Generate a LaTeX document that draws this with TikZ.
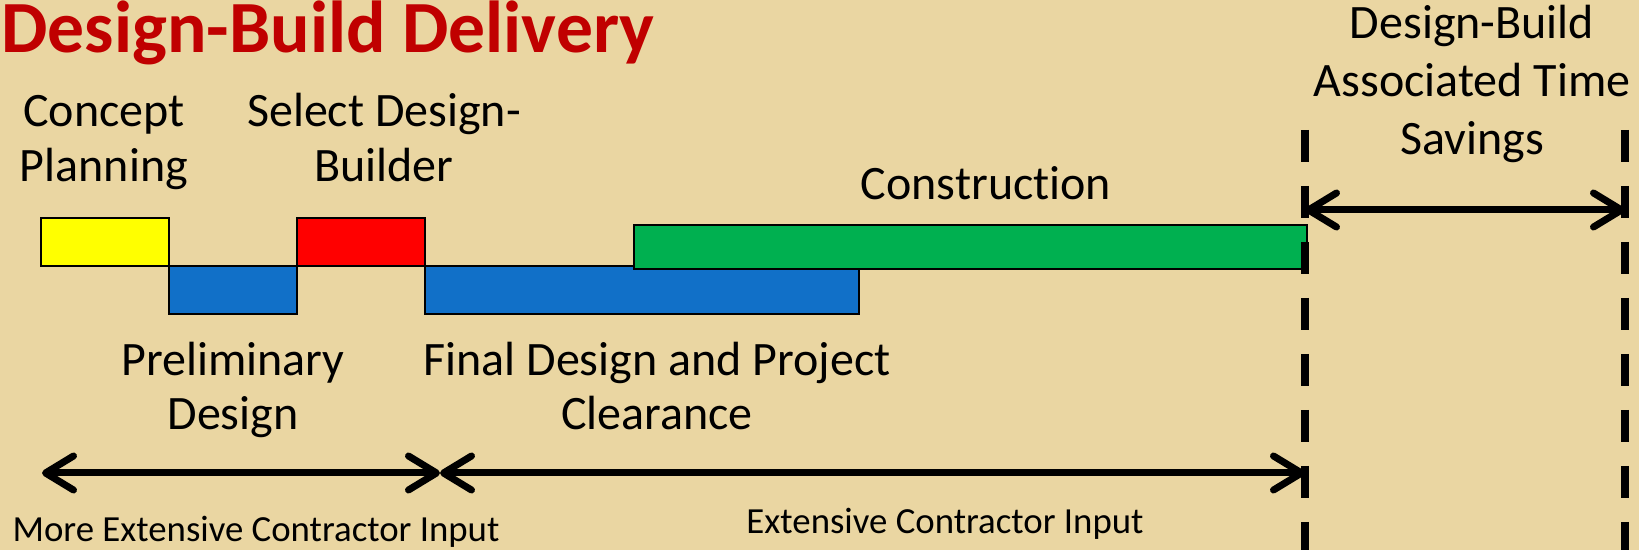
\documentclass[tikz,border=0pt]{standalone}
\usepackage{fontspec}
\setmainfont{Carlito}[Ligatures=NoCommon]
\usetikzlibrary{positioning, arrows.meta}

\definecolor{papyrus}{HTML}{EAD6A2}
\definecolor{titlered}{HTML}{C00000}
\definecolor{conceptfill}{HTML}{FFFF00}
\definecolor{designfill}{HTML}{1170C8}
\definecolor{selectfill}{HTML}{FF0000}
\definecolor{buildfill}{HTML}{00B050}

\begin{document}
\begin{tikzpicture}[x=0.5pt, y=-0.5pt,
    bar/.style = {draw, line width=0.8pt, inner sep=0pt, outer sep=0pt,
                  minimum height=24pt, anchor=north west},
    phasetext/.style = {font=\fontsize{24}{27.5}\selectfont, align=center,
                        anchor=base, inner sep=0pt},
    inputtext/.style = {font=\fontsize{18.4}{22}\selectfont, anchor=base, inner sep=0pt},
    barb/.tip = {Straight Barb[length=14pt, width=17pt, round]},
    span/.style = {line width=3.5pt, barb-barb},
    savebound/.style = {line width=3.8pt, dash pattern=on 16pt off 12pt}]

    % Background
    \fill[papyrus] (0,0) rectangle (1639,550);
    \useasboundingbox (0,0) rectangle (1639,550);

    % Title
    \node[anchor=base west, inner sep=0pt, text=titlered,
          font=\fontsize{36.8}{40}\selectfont\bfseries] (title) at (1,53) {Design-Build Delivery};

    % Phases
    \node[bar, fill=conceptfill, minimum width=64pt] (concept) at (40.7,218) {};
    \node[bar, fill=designfill, minimum width=64pt] (prelim) at (concept.south east) {};
    \node[bar, fill=selectfill, minimum width=64pt, anchor=south west] (select) at (prelim.north east) {};
    \node[bar, fill=designfill, minimum width=217pt] (final) at (select.south east) {};
    \node[bar, fill=buildfill, minimum width=336.5pt, minimum height=22pt] (build) at (634,225) {};

    % Phase labels (anchored at the last line)
    \node[phasetext] (conceptlbl) at (104,182) {Concept\\Planning};
    \node[phasetext] (selectlbl) at (384,182) {Select Design-\\Builder};
    \node[phasetext] (buildlbl) at (986,200) {Construction};
    \node[phasetext] (prelimlbl) at (233,430) {Preliminary\\Design};
    \node[phasetext] (finallbl) at (657,430) {Final Design and Project\\Clearance};
    \node[phasetext, font=\fontsize{24}{29}\selectfont] (savelbl) at (1472,155) {Design-Build\\Associated Time\\Savings};

    % Time savings bounds
    \coordinate (saveLtop) at (1305,130);
    \coordinate (saveLbot) at (1305,552);
    \coordinate (saveRtop) at (1625,130);
    \coordinate (saveRbot) at (1625,552);
    \draw[savebound] (saveLtop) -- (saveLbot);
    \draw[savebound] (saveRtop) -- (saveRbot);

    % Spans
    \coordinate (saveL) at (1305,210);
    \coordinate (saveR) at (1625,210);
    \coordinate (morestart) at (42,473);
    \coordinate (handover) at (440,473);
    \coordinate (buildend) at (1305,473);
    \draw[span] (saveL) -- (saveR);
    \draw[span] (morestart) -- (handover);
    \draw[span] (handover) -- (buildend);

    % Contractor input
    \node[inputtext] (morelbl) at (256,542) {More Extensive Contractor Input};
    \node[inputtext] (extlbl) at (945,533) {Extensive Contractor Input};
\end{tikzpicture}
\end{document}
